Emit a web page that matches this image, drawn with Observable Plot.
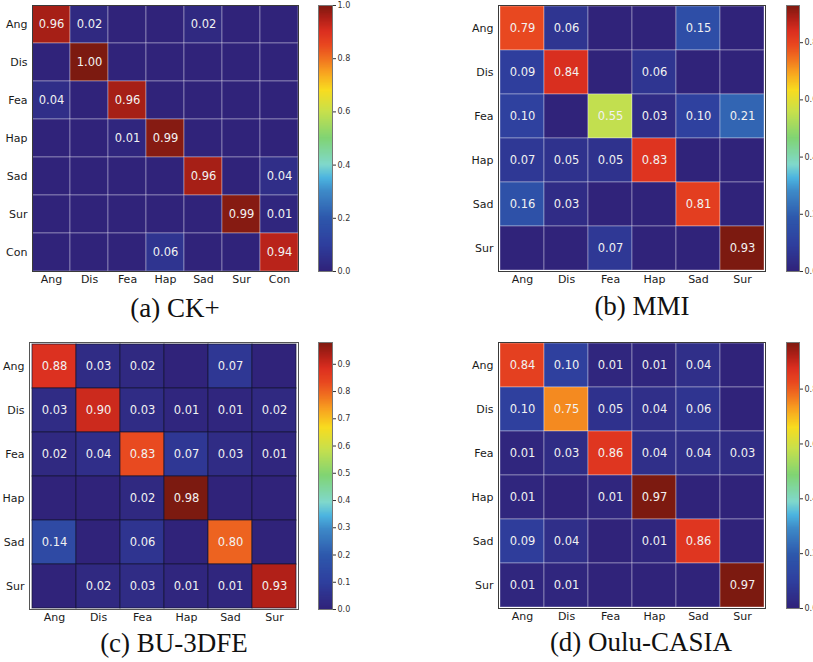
<!DOCTYPE html>
<html>
<head>
<meta charset="utf-8">
<script src="https://cdn.jsdelivr.net/npm/d3@7"></script>
<script src="https://cdn.jsdelivr.net/npm/@observablehq/plot@0.6"></script>
<style>
  html, body { margin: 0; padding: 0; background: #fff; }
  #root { position: relative; width: 813px; height: 662px; overflow: hidden; background: #fff; }
  .panel { position: absolute; }
  .panel svg { max-width: none !important; display: block; }
  .caption { position: absolute; width: 300px; text-align: center; font-family: "Liberation Serif", "DejaVu Serif", serif; font-size: 27px; line-height: 27px; color: #111; white-space: nowrap; }
</style>
</head>
<body>
<div id="root"></div>
<script>
// ---------- data ----------
const labelsCK = ["Ang", "Dis", "Fea", "Hap", "Sad", "Sur", "Con"];
const matrixCK = [
  [0.96, 0.02, 0, 0, 0.02, 0, 0],
  [0, 1.00, 0, 0, 0, 0, 0],
  [0.04, 0, 0.96, 0, 0, 0, 0],
  [0, 0, 0.01, 0.99, 0, 0, 0],
  [0, 0, 0, 0, 0.96, 0, 0.04],
  [0, 0, 0, 0, 0, 0.99, 0.01],
  [0, 0, 0, 0.06, 0, 0, 0.94]
];
const labels6 = ["Ang", "Dis", "Fea", "Hap", "Sad", "Sur"];
const matrixMMI = [
  [0.79, 0.06, 0, 0, 0.15, 0],
  [0.09, 0.84, 0, 0.06, 0, 0],
  [0.10, 0, 0.55, 0.03, 0.10, 0.21],
  [0.07, 0.05, 0.05, 0.83, 0, 0],
  [0.16, 0.03, 0, 0, 0.81, 0],
  [0, 0, 0.07, 0, 0, 0.93]
];
const matrixBU = [
  [0.88, 0.03, 0.02, 0, 0.07, 0],
  [0.03, 0.90, 0.03, 0.01, 0.01, 0.02],
  [0.02, 0.04, 0.83, 0.07, 0.03, 0.01],
  [0, 0, 0.02, 0.98, 0, 0],
  [0.14, 0, 0.06, 0, 0.80, 0],
  [0, 0.02, 0.03, 0.01, 0.01, 0.93]
];
const matrixOulu = [
  [0.84, 0.10, 0.01, 0.01, 0.04, 0],
  [0.10, 0.75, 0.05, 0.04, 0.06, 0],
  [0.01, 0.03, 0.86, 0.04, 0.04, 0.03],
  [0.01, 0, 0.01, 0.97, 0, 0],
  [0.09, 0.04, 0, 0.01, 0.86, 0],
  [0.01, 0.01, 0, 0, 0, 0.97]
];
const captions = ["(a) CK+", "(b) MMI", "(c) BU-3DFE", "(d) Oulu-CASIA"];
const vmaxes = [1.0, 0.93, 0.98, 0.97];
const cbarTicks = [
  [0, 0.2, 0.4, 0.6, 0.8, 1.0],
  [0, 0.2, 0.4, 0.6, 0.8],
  [0, 0.1, 0.2, 0.3, 0.4, 0.5, 0.6, 0.7, 0.8, 0.9],
  [0, 0.2, 0.4, 0.6, 0.8]
];

// ---------- colormap (style) ----------
const cmapStops  = [0, 0.1, 0.2, 0.3, 0.35, 0.4, 0.5, 0.6, 0.68, 0.75, 0.8, 0.85, 0.9, 0.95, 1.0];
const cmapColors = ["#30237a", "#2f3f9e", "#2e58ac", "#3e8ac8", "#4cb4e0", "#80d8cc", "#80d474", "#c8e04c",
                    "#f8dc20", "#f8a020", "#f07020", "#e84820", "#dc3020", "#b02018", "#7c1a10"];
const cmapScale = d3.scaleLinear().domain(cmapStops).range(cmapColors).interpolate(d3.interpolateRgb).clamp(true);
const cmap = t => cmapScale(t);

const root = document.getElementById("root");

function place(node, left, top, width) {
  const wrap = document.createElement("div");
  wrap.className = "panel";
  wrap.style.left = left + "px";
  wrap.style.top = top + "px";
  wrap.style.width = width + "px";
  wrap.appendChild(node);
  root.appendChild(wrap);
}

function heatmap(labels, matrix, vmax, opts) {
  const data = matrix.flatMap((row, i) => row.map((v, j) => ({row: labels[i], col: labels[j], v})));
  return Plot.plot({
    width: opts.width, height: opts.height,
    marginLeft: opts.ml, marginRight: opts.mr, marginTop: opts.mt, marginBottom: opts.mb,
    x: {domain: labels, padding: 0, tickSize: 0, tickPadding: 4, label: null},
    y: {domain: labels, padding: 0, tickSize: 0, tickPadding: 5, label: null},
    color: {type: "linear", domain: [0, vmax], interpolate: cmap, clamp: true},
    style: {fontFamily: "DejaVu Sans, sans-serif", fontSize: "11px", color: "#1a1a1a", background: "transparent"},
    marks: [
      Plot.cell(data, {x: "col", y: "row", fill: "v", inset: 0,
        stroke: opts.gridStroke, strokeOpacity: opts.gridOpacity, strokeWidth: 1}),
      Plot.text(data.filter(d => d.v > 0), {x: "col", y: "row", text: d => d.v.toFixed(2),
        fill: "#f2f2f2", fontSize: 11.5}),
      Plot.frame({stroke: opts.frameStroke, strokeWidth: 1})
    ]
  });
}

function colorbar(vmax, ticks, opts) {
  const step = vmax / 300;
  const stripes = d3.range(0, vmax, step);
  return Plot.plot({
    width: opts.width, height: opts.height,
    marginLeft: 0, marginRight: opts.mr, marginTop: opts.mt, marginBottom: opts.mb,
    x: {axis: null},
    y: {domain: [0, vmax], axis: "right", ticks: ticks, tickFormat: d3.format(".1f"),
        tickSize: 3, tickPadding: 2, label: null},
    color: {type: "linear", domain: [0, vmax], interpolate: cmap, clamp: true},
    style: {fontFamily: "DejaVu Sans, sans-serif", fontSize: "8px", color: "#333", background: "transparent", overflow: "visible"},
    marks: [
      Plot.rect(stripes, {y1: d => d, y2: d => Math.min(vmax, d + step * 2), fill: d => d + step / 2}),
      Plot.frame({stroke: "#777", strokeWidth: 1})
    ]
  });
}

// panel (a)
place(heatmap(labelsCK, matrixCK, vmaxes[0],
  {width: 300, height: 290, ml: 32, mr: 2, mt: 5, mb: 19, gridStroke: "#ffffff", gridOpacity: 0.35, frameStroke: "#3a3a3a"}), 0, 0, 300);
place(colorbar(vmaxes[0], cbarTicks[0], {width: 60, height: 290, mr: 46, mt: 5, mb: 19}), 318, 0, 60);

// panel (b)
place(heatmap(labels6, matrixMMI, vmaxes[1],
  {width: 320, height: 290, ml: 48, mr: 5, mt: 5, mb: 19, gridStroke: "#ffffff", gridOpacity: 0.35, frameStroke: "#3a3a3a"}), 450, 0, 320);
place(colorbar(vmaxes[1], cbarTicks[1], {width: 60, height: 290, mr: 47, mt: 5, mb: 19}), 786, 0, 60);

// panel (c)
place(heatmap(labels6, matrixBU, vmaxes[2],
  {width: 300, height: 300, ml: 29, mr: 2, mt: 12, mb: 21, gridStroke: "#141432", gridOpacity: 0.7, frameStroke: "#555555"}), 0, 330, 300);
place(colorbar(vmaxes[2], cbarTicks[2], {width: 60, height: 300, mr: 46, mt: 12, mb: 21}), 318, 330, 60);

// panel (d)
place(heatmap(labels6, matrixOulu, vmaxes[3],
  {width: 320, height: 300, ml: 48, mr: 5, mt: 12, mb: 22, gridStroke: "#ffffff", gridOpacity: 0.35, frameStroke: "#3a3a3a"}), 450, 330, 320);
place(colorbar(vmaxes[3], cbarTicks[3], {width: 60, height: 300, mr: 47, mt: 12, mb: 22}), 786, 330, 60);

// captions
const capPos = [[175, 295], [642, 293], [174, 630], [641, 629]];
captions.forEach((c, i) => {
  const d = document.createElement("div");
  d.className = "caption";
  d.textContent = c;
  d.style.left = (capPos[i][0] - 150) + "px";
  d.style.top = capPos[i][1] + "px";
  root.appendChild(d);
});
</script>
</body>
</html>
